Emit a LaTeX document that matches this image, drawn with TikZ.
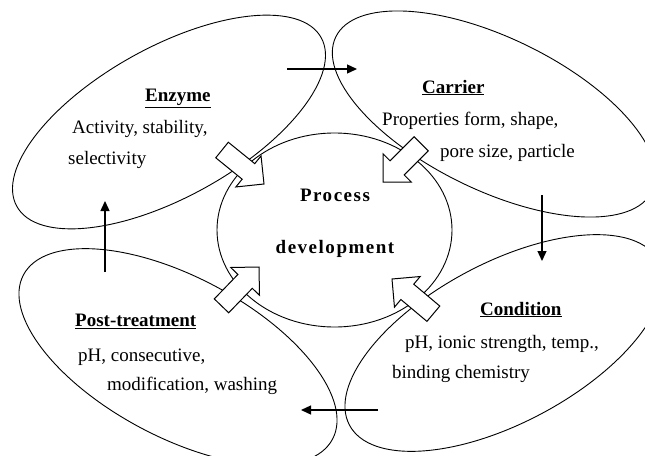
\documentclass[tikz,border=0pt]{standalone}
\usepackage{fontspec}
\setmainfont{Liberation Serif}
\usetikzlibrary{shapes.geometric,arrows.meta}
\begin{document}
\begin{tikzpicture}[x=1pt,y=-1pt,
  ell/.style={draw, ellipse, line width=0.9pt, inner sep=0pt},
  txt/.style={anchor=base west, inner sep=0pt, font=\fontsize{19pt}{22pt}\selectfont},
  ttl/.style={anchor=base west, inner sep=0pt, font=\fontsize{19pt}{22pt}\selectfont\bfseries},
  ctr/.style={anchor=base, inner sep=0pt, font=\fontsize{19pt}{22pt}\selectfont\bfseries\addfontfeature{LetterSpace=8}},
  flow/.style={line width=1.3pt, -{Triangle[length=10pt,width=9pt]}},
  pics/barrow/.style={code={\draw[fill=white, line width=1pt, line join=miter]
     (0,0) -- (-20,-20) -- (-20,-10) -- (-54,-10) -- (-54,10) -- (-20,10) -- (-20,20) -- cycle;}}
]
\useasboundingbox (0,0) rectangle (645,455);
\clip (0,0) rectangle (645,455);

% petals
\node[ell, minimum width=348pt, minimum height=150pt, rotate=29]  (enz)  at (169,122) {};
\node[ell, minimum width=352pt, minimum height=152pt, rotate=-26] (car)  at (494,114) {};
\node[ell, minimum width=350pt, minimum height=160pt, rotate=28]  (con)  at (504,343) {};
\node[ell, minimum width=350pt, minimum height=160pt, rotate=-28] (post) at (178,357) {};

% centre
\node[ell, fill=white, minimum width=235pt, minimum height=194pt] (proc) at (334.5,230) {};

% block arrows
\pic (aE) [rotate=-39] at (264,184) {barrow};
\pic (aC) [rotate=-135] at (383,182) {barrow};
\pic (aD) [rotate=140] at (392,279) {barrow};
\pic (aP) [rotate=46] at (259,267) {barrow};

% thin flow arrows
\coordinate (f1s) at (287,69);  \coordinate (f1e) at (357,69);
\coordinate (f2s) at (542,195); \coordinate (f2e) at (542,261);
\coordinate (f3s) at (378,410); \coordinate (f3e) at (301,410);
\coordinate (f4s) at (105,272); \coordinate (f4e) at (105,201);
\draw[flow] (f1s) -- (f1e);
\draw[flow] (f2s) -- (f2e);
\draw[flow] (f3s) -- (f3e);
\draw[flow] (f4s) -- (f4e);

% texts
\node[ttl] (tE)  at (145,101.5) {\underline{Enzyme}};
\node[txt] (tE1) at (72,133)    {Activity, stability,};
\node[txt] (tE2) at (68,164)    {selectivity};

\node[ttl] (tC)  at (422,93)    {\underline{Carrier}};
\node[txt] (tC1) at (382,125)   {Properties form, shape,};
\node[txt] (tC2) at (440,157)   {pore size, particle};

\node[ttl] (tP)  at (75,326.5)  {\underline{Post-treatment}};
\node[txt] (tP1) at (78,361)    {pH, consecutive,};
\node[txt] (tP2) at (107,390)   {modification, washing};

\node[ttl] (tD)  at (480,315)   {\underline{Condition}};
\node[txt] (tD1) at (405,348)   {pH, ionic strength, temp.,};
\node[txt] (tD2) at (392,378)   {binding chemistry};

\node[ctr] (pr1) at (335,201.5) {Process};
\node[ctr] (pr2) at (335,253)   {development};
\end{tikzpicture}
\end{document}
